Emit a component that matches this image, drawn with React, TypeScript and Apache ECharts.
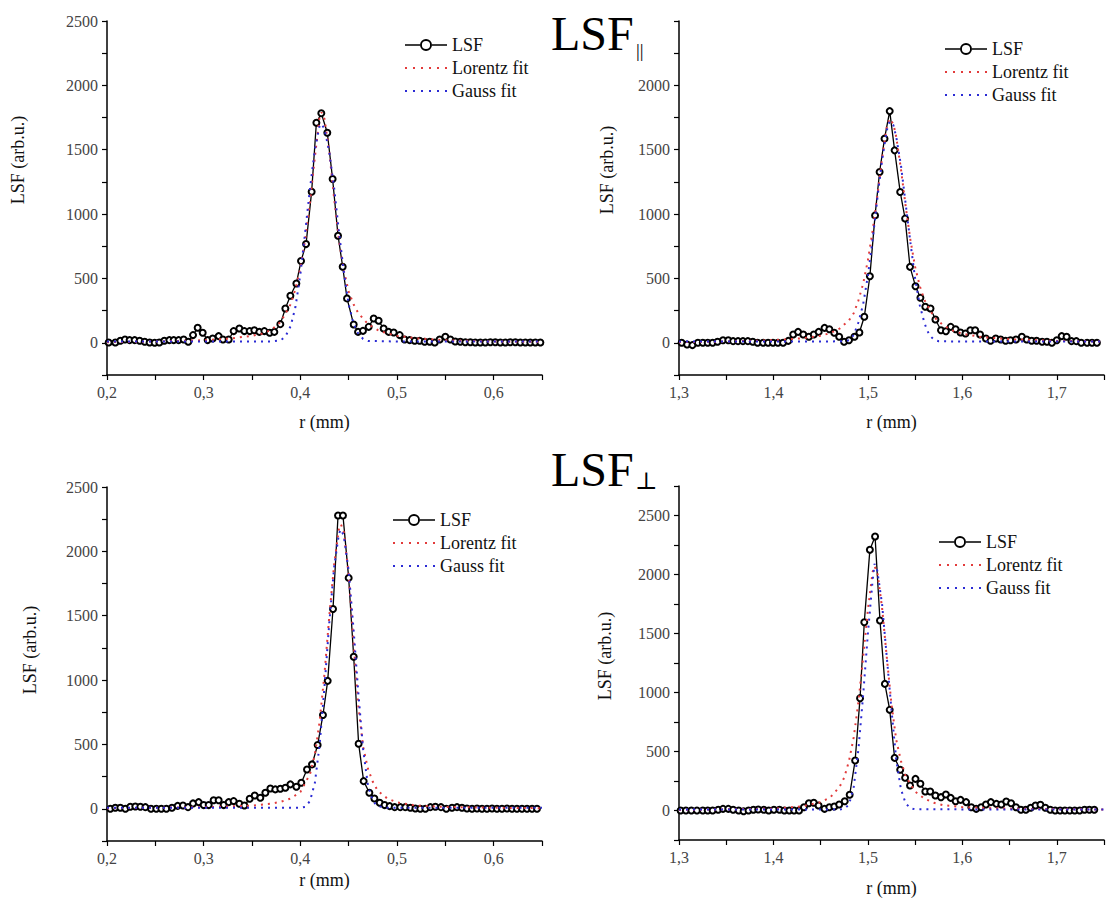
import React, { useEffect, useRef } from "react";
import * as echarts from "echarts";

// ---------- DATA ----------
// Panel 1 (LSF parallel, left)
const p1X = [0.2017,0.2086,0.2138,0.2186,0.2234,0.2286,0.2338,0.2390,0.2441,0.2493,0.2541,0.2593,0.2645,0.2690,0.2741,0.2793,0.2841,
  0.2890,0.2938,0.2990,0.3041,0.3093,0.3155,0.3200,0.3259,0.3310,0.3369,0.3421,0.3476,0.3524,0.3576,0.3628,0.3683,0.3731,0.3793,0.3845,0.3897,
  0.3959,0.4007,0.4059,0.4117,0.4166,0.4217,0.4279,0.4334,0.4390,0.4438,0.4483,0.4552,0.4597,0.4648,0.4707,0.4759,0.4810,0.4862,0.4914,0.4966,
  0.5028,0.5079,0.5131,0.5183,0.5234,0.5286,0.5338,0.5390,0.5441,0.5500,0.5552,0.5603,0.5655,
  0.5707,0.5759,0.5810,0.5862,0.5914,0.5966,0.6017,0.6069,0.6121,0.6172,0.6224,0.6276,0.6328,0.6379,0.6431,0.6483];
const p1Y = [3,3,16,26,21,21,16,8,3,0,3,16,21,21,21,26,8,
  60,117,78,21,34,52,26,26,91,111,91,91,98,85,91,78,85,145,267,365,
  461,635,767,1174,1710,1783,1632,1272,832,591,345,142,85,93,124,189,171,111,85,80,
  60,26,21,16,16,8,8,3,26,47,26,10,8,
  5,5,3,3,3,5,5,3,3,5,5,3,3,3,3,3];
const p1LorX = [0.2,0.25,0.3,0.33,0.35,0.36,0.37,0.38,0.39,0.395,0.4,0.405,0.41,0.415,0.42,0.422,0.425,0.43,0.435,0.44,0.445,0.45,0.455,0.46,0.47,0.48,0.49,0.5,0.52,0.55,0.6,0.65];
const p1LorY = [5,10,20,35,55,70,100,165,300,420,580,800,1090,1440,1760,1790,1740,1480,1120,800,560,400,300,230,145,100,72,55,35,20,10,7];
const p1GauX = [0.2,0.3,0.37,0.38,0.385,0.39,0.395,0.4,0.405,0.41,0.415,0.42,0.422,0.425,0.43,0.435,0.44,0.445,0.45,0.455,0.46,0.465,0.47,0.5,0.65];
const p1GauY = [10,10,10,20,55,130,280,530,860,1200,1500,1690,1700,1660,1480,1200,860,550,300,150,70,30,15,10,10];

// Panel 2 (LSF parallel, right)
const p2X = [1.3028,1.3086,1.3142,1.3200,1.3252,1.3304,1.3356,1.3408,1.3466,1.3522,1.3573,1.3625,1.3677,1.3729,1.3781,1.3832,1.3891,1.3943,1.3995,
  1.4047,1.4102,1.4157,1.4209,1.4261,1.4316,1.4375,1.4427,1.4479,1.4541,1.4592,1.4644,1.4696,1.4748,1.4800,1.4858,1.4910,1.4962,1.5021,1.5076,
  1.5124,1.5176,1.5231,1.5283,1.5342,1.5394,1.5446,1.5504,1.5556,1.5608,1.5663,1.5715,1.5774,1.5826,1.5877,1.5929,1.5981,1.6033,1.6085,1.6136,
  1.6188,1.6250,1.6299,1.6354,1.6406,1.6458,1.6510,1.6568,1.6630,1.6682,1.6734,1.6786,1.6845,1.6896,1.6948,1.7000,1.7052,1.7104,1.7156,1.7207,
  1.7259,1.7321,1.7373,1.7425];
const p2Y = [0,-13,-18,0,0,0,0,8,20,20,13,13,13,13,8,0,0,0,0,
  0,0,15,65,85,65,47,65,85,116,106,78,47,8,20,47,80,202,517,990,
  1327,1586,1800,1495,1172,965,590,440,350,280,266,181,98,90,124,106,80,72,98,98,
  65,34,16,34,26,16,20,26,47,26,16,16,8,8,0,20,52,47,13,13,
  0,0,0,0];
const p2LorX = [1.3,1.35,1.4,1.43,1.45,1.46,1.47,1.48,1.485,1.49,1.495,1.5,1.505,1.51,1.515,1.52,1.523,1.527,1.53,1.535,1.54,1.545,1.55,1.555,1.56,1.57,1.58,1.59,1.6,1.62,1.65,1.7,1.75];
const p2LorY = [5,10,20,35,55,75,110,175,230,330,460,640,870,1140,1430,1680,1740,1700,1600,1350,1060,800,590,440,330,200,135,95,70,45,28,15,10];
const p2GauX = [1.3,1.45,1.475,1.48,1.485,1.49,1.495,1.5,1.505,1.51,1.515,1.52,1.523,1.527,1.53,1.535,1.54,1.545,1.55,1.555,1.56,1.565,1.57,1.575,1.6,1.75];
const p2GauY = [10,10,12,20,60,160,300,520,800,1120,1420,1650,1720,1690,1600,1380,1080,780,500,290,150,60,25,12,10,10];

// Panel 3 (LSF perpendicular, left)
const p3X = [0.2034,0.2086,0.2138,0.2190,0.2241,0.2293,0.2345,0.2397,0.2455,0.2510,0.2562,0.2614,0.2672,0.2731,0.2786,0.2838,0.2890,0.2948,0.3000,0.3052,
  0.3103,0.3155,0.3207,0.3259,0.3310,0.3369,0.3421,0.3476,0.3528,0.3586,0.3638,0.3690,0.3741,0.3793,0.3845,0.3897,0.3959,0.4010,0.4069,0.4121,
  0.4179,0.4234,0.4283,0.4338,0.4390,0.4441,0.4500,0.4552,0.4603,0.4655,0.4714,0.4766,0.4821,0.4872,0.4924,0.4976,0.5034,0.5086,0.5138,0.5190,
  0.5241,0.5293,0.5345,0.5397,0.5455,0.5510,0.5569,0.5621,0.5672,0.5724,0.5776,0.5828,0.5879,0.5931,0.5983,0.6034,0.6086,0.6138,0.6190,0.6241,
  0.6293,0.6345,0.6397,0.6448];
const p3Y = [0,8,8,0,16,18,16,13,0,0,0,0,8,23,26,13,42,52,29,29,
  67,67,29,52,60,39,26,78,104,86,125,158,151,156,164,190,171,202,306,345,
  496,729,994,1552,2279,2279,1794,1181,506,215,125,80,47,29,21,13,13,13,8,3,
  0,0,13,16,13,0,8,13,8,3,0,3,0,0,3,0,0,3,0,0,
  0,0,0,0];
const p3LorX = [0.2,0.3,0.35,0.37,0.38,0.39,0.4,0.41,0.415,0.42,0.425,0.43,0.435,0.44,0.442,0.445,0.45,0.455,0.46,0.465,0.47,0.475,0.48,0.49,0.5,0.52,0.55,0.6,0.65];
const p3LorY = [5,12,25,40,55,80,130,270,420,680,1050,1500,1900,2180,2210,2150,1820,1300,800,480,310,210,140,80,50,25,15,8,5];
const p3GauX = [0.2,0.4,0.405,0.41,0.415,0.42,0.425,0.43,0.435,0.44,0.442,0.445,0.45,0.455,0.46,0.465,0.47,0.475,0.48,0.49,0.65];
const p3GauY = [8,8,15,60,200,500,950,1450,1880,2140,2170,2120,1850,1400,900,460,180,60,20,8,8];

// Panel 4 (LSF perpendicular, right)
const p4X = [1.3017,1.3073,1.3131,1.3190,1.3252,1.3304,1.3356,1.3415,1.3466,1.3522,1.3573,1.3632,1.3684,1.3736,1.3788,1.3839,1.3898,1.3950,1.4005,1.4064,
  1.4116,1.4168,1.4219,1.4271,1.4323,1.4375,1.4427,1.4478,1.4541,1.4592,1.4644,1.4696,1.4755,1.4807,1.4865,1.4917,1.4962,1.5021,1.5076,1.5128,
  1.5180,1.5231,1.5283,1.5342,1.5394,1.5446,1.5504,1.5556,1.5608,1.5660,1.5715,1.5774,1.5826,1.5877,1.5929,1.5981,1.6040,1.6095,1.6147,1.6199,
  1.6250,1.6302,1.6361,1.6413,1.6465,1.6516,1.6568,1.6620,1.6672,1.6724,1.6775,1.6827,1.6879,1.6931,1.6983,1.7035,1.7086,1.7138,1.7190,1.7242,
  1.7294,1.7345,1.7397];
const p4Y = [0,0,0,0,0,0,0,6,14,14,6,0,-6,0,6,8,6,0,6,6,
  0,0,0,0,28,62,65,42,14,28,34,51,79,133,424,952,1596,2209,2322,1610,
  1073,853,446,345,277,212,268,226,161,161,127,113,136,107,79,90,71,28,14,28,
  51,71,56,51,76,62,28,6,6,23,42,48,23,6,0,0,0,0,0,0,
  6,6,6];
const p4LorX = [1.3,1.4,1.43,1.45,1.46,1.47,1.475,1.48,1.485,1.49,1.495,1.5,1.505,1.507,1.51,1.515,1.52,1.525,1.53,1.535,1.54,1.55,1.56,1.57,1.58,1.6,1.65,1.75];
const p4LorY = [5,15,35,70,110,200,280,420,620,920,1300,1700,2020,2070,2020,1720,1300,900,600,420,290,160,100,65,45,28,15,8];
const p4GauX = [1.3,1.47,1.475,1.48,1.485,1.49,1.495,1.5,1.505,1.507,1.51,1.515,1.52,1.525,1.53,1.535,1.54,1.545,1.55,1.75];
const p4GauY = [8,8,15,50,200,520,980,1500,1950,2090,2030,1750,1300,850,430,180,60,20,10,8];

const seriesNames = ["LSF", "Lorentz fit", "Gauss fit"];
const axisTitleX = "r (mm)";
const axisTitleY = "LSF (arb.u.)";

// ---------- LAYOUT / STYLE ----------
const FONT = "Liberation Serif";
const RED = "#e23b3b";
const BLUE = "#2b2bd4";

// legend icons (42 x 12 box)
const ICON_LSF =
  "path://M0,6.3H15V7.7H0Z M27,6.3H42V7.7H27Z " +
  "M27,7A6,6 0 1,0 15,7A6,6 0 1,0 27,7Z M25.1,7A4.1,4.1 0 1,1 16.9,7A4.1,4.1 0 1,1 25.1,7Z";
const ICON_DOTS =
  "path://M0,0H2V2H0Z M8,0H10V2H8Z M16,0H18V2H16Z M24,0H26V2H24Z M32,0H34V2H32Z M40,0H42V2H40Z";

const zip = (xs: number[], ys: number[]) => xs.map((x, i) => [x, ys[i]]);

const panels = [
  { lsf: zip(p1X, p1Y), lor: zip(p1LorX, p1LorY), gau: zip(p1GauX, p1GauY), xMin: 0.2, xMax: 0.65, yMax: 2500, hideTop: false,
    grid: { left: 107, top: 21, width: 435, height: 354 }, legend: { left: 405, top: 36 }, nameGap: 38, yTitle: [18, 160] },
  { lsf: zip(p2X, p2Y), lor: zip(p2LorX, p2LorY), gau: zip(p2GauX, p2GauY), xMin: 1.3, xMax: 1.75, yMax: 2500, hideTop: true,
    grid: { left: 679, top: 21, width: 435, height: 354 }, legend: { left: 945, top: 40 }, nameGap: 38, yTitle: [607, 170] },
  { lsf: zip(p3X, p3Y), lor: zip(p3LorX, p3LorY), gau: zip(p3GauX, p3GauY), xMin: 0.2, xMax: 0.65, yMax: 2500, hideTop: false,
    grid: { left: 107, top: 487, width: 435, height: 354 }, legend: { left: 393, top: 511 }, nameGap: 30, yTitle: [30, 650] },
  { lsf: zip(p4X, p4Y), lor: zip(p4LorX, p4LorY), gau: zip(p4GauX, p4GauY), xMin: 1.3, xMax: 1.75, yMax: 2750, hideTop: false,
    grid: { left: 679, top: 486, width: 435, height: 355 }, legend: { left: 939, top: 533 }, nameGap: 39, yTitle: [605, 656] },
];

export default function App() {
  const ref = useRef<HTMLDivElement>(null);
  useEffect(() => {
    if (!ref.current) return;
    const chart = echarts.init(ref.current, undefined, { renderer: "svg" });

    const axisCommon = {
      axisLine: { show: true, onZero: false, lineStyle: { color: "#000", width: 1.5 } },
      axisTick: { show: true, inside: false, length: 5, lineStyle: { color: "#000", width: 1.2 } },
      splitLine: { show: false },
    };

    const grid: any[] = [];
    const xAxis: any[] = [];
    const yAxis: any[] = [];
    const series: any[] = [];
    const legend: any[] = [];
    const graphic: any[] = [];

    panels.forEach((p, i) => {
      grid.push({ ...p.grid, containLabel: false });
      xAxis.push({
        ...axisCommon,
        type: "value", gridIndex: i, min: p.xMin, max: p.xMax, interval: 0.05,
        name: axisTitleX, nameLocation: "middle", nameGap: p.nameGap,
        nameTextStyle: { fontFamily: FONT, fontSize: 18, color: "#111" },
        axisLabel: {
          margin: 9, fontFamily: FONT, fontSize: 16, color: "#444",
          formatter: (v: number) => {
            const t = v * 10;
            if (Math.abs(t - Math.round(t)) > 1e-6) return "";
            if (v > p.xMax - 0.01) return "";
            return v.toFixed(1).replace(".", ",");
          },
        },
      });
      yAxis.push({
        ...axisCommon,
        type: "value", gridIndex: i, min: -250, max: p.yMax, interval: 250,
        axisLabel: {
          margin: 9, fontFamily: FONT, fontSize: 16, color: "#444",
          formatter: (v: number) => {
            if (v < 0 || Math.round(v) % 500 !== 0) return "";
            if (p.hideTop && v >= 2500) return "";
            return String(Math.round(v));
          },
        },
      });
      series.push({
        type: "line", name: seriesNames[0], xAxisIndex: i, yAxisIndex: i, data: p.lsf,
        symbol: "emptyCircle", symbolSize: 6, showSymbol: true, showAllSymbol: true,
        lineStyle: { color: "#000", width: 1.3 },
        itemStyle: { color: "#000", borderColor: "#000", borderWidth: 1.2 },
        z: 3,
      });
      series.push({
        type: "line", name: seriesNames[1], xAxisIndex: i, yAxisIndex: i, data: p.lor,
        symbol: "none", lineStyle: { color: RED, width: 2, type: [2, 5] }, itemStyle: { color: RED }, z: 4,
      });
      series.push({
        type: "line", name: seriesNames[2], xAxisIndex: i, yAxisIndex: i, data: p.gau,
        symbol: "none", lineStyle: { color: BLUE, width: 2, type: [2, 5] }, itemStyle: { color: BLUE }, z: 4,
      });
      legend.push({
        orient: "vertical", left: p.legend.left, top: p.legend.top, padding: 0,
        itemWidth: 42, itemHeight: 14, itemGap: 5, selectedMode: false,
        textStyle: { fontFamily: FONT, fontSize: 18, color: "#111", lineHeight: 18 },
        data: [
          { name: seriesNames[0], icon: ICON_LSF, itemStyle: { color: "#000", borderWidth: 0 } },
          { name: seriesNames[1], icon: ICON_DOTS, itemStyle: { color: RED, borderWidth: 0 } },
          { name: seriesNames[2], icon: ICON_DOTS, itemStyle: { color: BLUE, borderWidth: 0 } },
        ],
      });
      graphic.push({
        type: "text", x: p.yTitle[0], y: p.yTitle[1], rotation: Math.PI / 2,
        style: { text: axisTitleY, fontFamily: FONT, fontSize: 18, fill: "#111", align: "center", verticalAlign: "middle" },
      });
    });

    graphic.push(
      { type: "text", x: 551, y: 33, style: { text: "LSF", fontFamily: FONT, fontSize: 48, fill: "#000", align: "left", verticalAlign: "middle" } },
      { type: "text", x: 636, y: 50, style: { text: "||", fontFamily: FONT, fontSize: 19, fill: "#000", align: "left", verticalAlign: "middle" } },
      { type: "text", x: 551, y: 469, style: { text: "LSF", fontFamily: FONT, fontSize: 48, fill: "#000", align: "left", verticalAlign: "middle" } },
      { type: "text", x: 635, y: 481, style: { text: "⊥", fontFamily: "DejaVu Serif", fontSize: 24, fill: "#000", align: "left", verticalAlign: "middle" } },
    );

    chart.setOption({
      animation: false,
      backgroundColor: "#fff",
      grid, xAxis, yAxis, series, legend, graphic,
    });
    return () => chart.dispose();
  }, []);
  return <div ref={ref} style={{ position: "absolute", left: 0, top: 0, width: 1107, height: 898 }} />;
}
